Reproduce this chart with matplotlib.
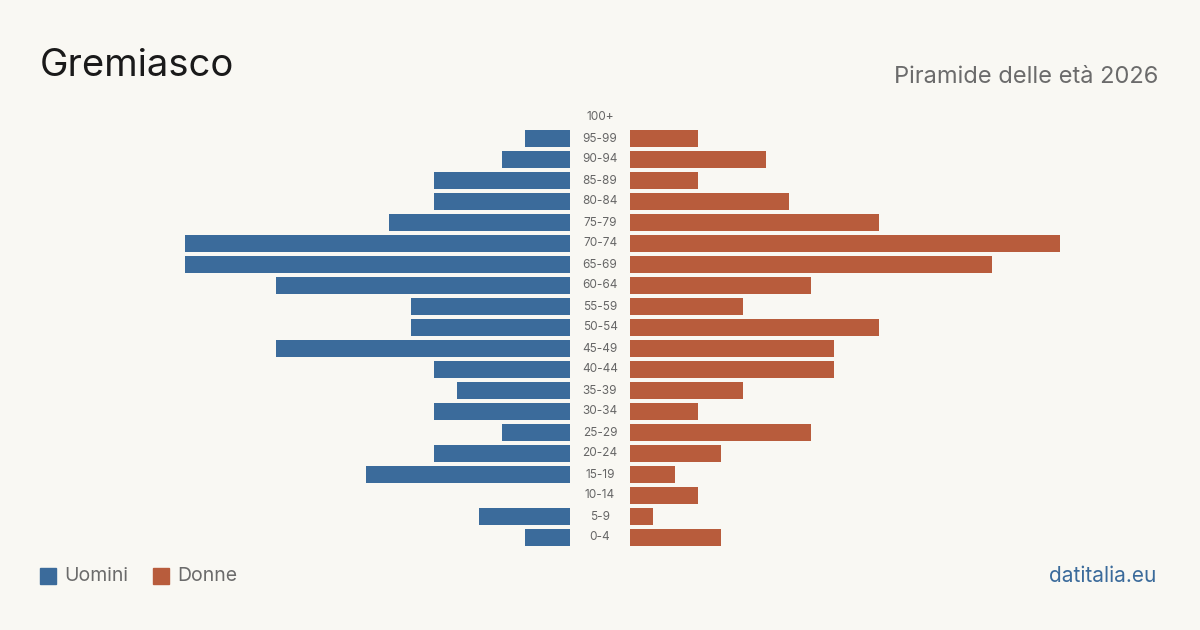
import matplotlib
matplotlib.use("Agg")
from matplotlib import pyplot as plt
from matplotlib import transforms
from matplotlib.patches import Rectangle

# dati
ages = ['0-4', '5-9', '10-14', '15-19', '20-24', '25-29', '30-34', '35-39',
        '40-44', '45-49', '50-54', '55-59', '60-64', '65-69', '70-74',
        '75-79', '80-84', '85-89', '90-94', '95-99', '100+']
men = [2, 4, 0, 9, 6, 3, 6, 5, 6, 13, 7, 7, 13, 17, 17, 8, 6, 6, 3, 2, 0]
women = [4, 1, 3, 2, 4, 8, 3, 5, 9, 9, 11, 5, 8, 16, 19, 11, 7, 3, 6, 3, 0]

bg = '#f9f8f3'
blue = '#3b6b9b'
red = '#b85c3c'
plt.rcParams['font.family'] = ['Inter', 'DejaVu Sans']

W, H = 1200, 630
fig = plt.figure(figsize=(12, 6.3), dpi=100, facecolor=bg)

unit = 22.65  # pixel per persona
bottom = 1 - 548 / H
height = 441 / H
axl = fig.add_axes([100 / W, bottom, 470 / W, height])
axr = fig.add_axes([630 / W, bottom, 470 / W, height])

y = list(range(len(ages)))
axl.barh(y, men, height=0.8, color=blue)
axr.barh(y, women, height=0.8, color=red)
axl.set_xlim(470 / unit, 0)
axr.set_xlim(0, 470 / unit)
for ax in (axl, axr):
    ax.set_ylim(-0.5, len(ages) - 0.5)
    ax.axis('off')
    ax.set_facecolor('none')

tr = transforms.blended_transform_factory(fig.transFigure, axl.transData)
for i, a in enumerate(ages):
    fig.text(600 / W, i, a, transform=tr, ha='center', va='center',
             fontsize=8.5, color='#666666')

fig.text(40 / W, 1 - 66 / H, 'Gremiasco', fontsize=27.5, color='#1a1a1a',
         ha='left', va='center')
fig.text(1158 / W, 1 - 77 / H, 'Piramide delle età 2026', fontsize=17,
         color='#6b6b6b', ha='right', va='center')

# legenda
for x0, lab, col in [(40, 'Uomini', blue), (153, 'Donne', red)]:
    fig.patches.append(Rectangle((x0 / W, 1 - 584 / H), 16 / W, 16 / H,
                                 transform=fig.transFigure, color=col))
    fig.text((x0 + 24) / W, 1 - 576 / H, lab, fontsize=14, color='#6b6b6b',
             ha='left', va='center')

fig.text(1156 / W, 1 - 576 / H, 'datitalia.eu', fontsize=15, color=blue,
         ha='right', va='center')

fig.savefig('out.png', dpi=100, facecolor=bg)
